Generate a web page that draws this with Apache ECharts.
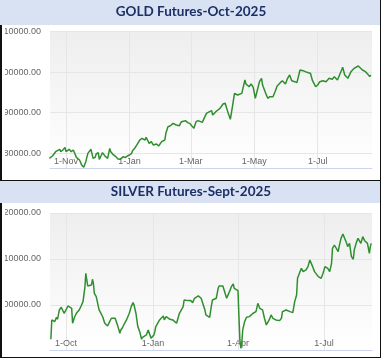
<!DOCTYPE html>
<html>
<head>
<meta charset="utf-8">
<script src="https://cdn.jsdelivr.net/npm/echarts@6/dist/echarts.min.js"></script>
<style>
  html, body { margin: 0; padding: 0; background: #fff; }
  #wrap { position: relative; width: 383px; height: 362px; overflow: hidden; background: #fff; }
  .bar { position: absolute; left: 0; width: 380px; background: #d9e2f3; }
  .ln { position: absolute; background: #111; }
  #chart { position: absolute; left: 5px; top: 0; width: 378px; height: 362px; }
</style>
</head>
<body>
<div id="wrap">
  <div class="ln" style="left:0;top:0;width:1.5px;height:358px;"></div>
  <div class="bar" style="top:0;height:25px;"></div>
  <div class="bar" style="top:181px;height:22px;"></div>
  <div class="ln" style="left:379.5px;top:0;width:1.5px;height:358px;"></div>
  <div class="ln" style="left:0;top:179.5px;width:381px;height:1.5px;"></div>
  <div class="ln" style="left:0;top:356.5px;width:381px;height:1.5px;"></div>
  <div id="chart"></div>
</div>
<script>
// ---------------- data ----------------
const goldTitle = 'GOLD Futures-Oct-2025';
const silverTitle = 'SILVER Futures-Sept-2025';

const goldDates = ['2024-10-16','2024-10-19','2024-10-22','2024-10-26','2024-10-27','2024-10-29','2024-10-31','2024-11-01','2024-11-04','2024-11-06','2024-11-08','2024-11-11','2024-11-14','2024-11-16','2024-11-18','2024-11-20','2024-11-22','2024-11-25','2024-11-27','2024-11-29','2024-11-30','2024-12-02','2024-12-03','2024-12-05','2024-12-06','2024-12-09','2024-12-11','2024-12-13','2024-12-14','2024-12-16','2024-12-19','2024-12-21','2024-12-23','2024-12-26','2024-12-28','2024-12-30','2025-01-01','2025-01-03','2025-01-04','2025-01-06','2025-01-07','2025-01-09','2025-01-11','2025-01-13','2025-01-16','2025-01-17','2025-01-20','2025-01-22','2025-01-24','2025-01-27','2025-01-29','2025-02-01','2025-02-02','2025-02-04','2025-02-05','2025-02-07','2025-02-09','2025-02-12','2025-02-13','2025-02-15','2025-02-18','2025-02-20','2025-02-21','2025-02-24','2025-02-26','2025-02-28','2025-03-02','2025-03-04','2025-03-06','2025-03-08','2025-03-09','2025-03-12','2025-03-13','2025-03-16','2025-03-19','2025-03-21','2025-03-22','2025-03-25','2025-03-27','2025-03-29','2025-04-01','2025-04-03','2025-04-06','2025-04-08','2025-04-10','2025-04-12','2025-04-15','2025-04-19','2025-04-22','2025-04-23','2025-04-26','2025-04-28','2025-04-30','2025-05-02','2025-05-04','2025-05-06','2025-05-08','2025-05-09','2025-05-12','2025-05-14','2025-05-16','2025-05-19','2025-05-21','2025-05-23','2025-05-26','2025-05-28','2025-05-31','2025-06-02','2025-06-04','2025-06-06','2025-06-09','2025-06-11','2025-06-14','2025-06-15','2025-06-17','2025-06-19','2025-06-22','2025-06-24','2025-06-26','2025-06-29','2025-07-01','2025-07-03','2025-07-06','2025-07-09','2025-07-12','2025-07-15','2025-07-17','2025-07-20','2025-07-24','2025-07-25','2025-07-27','2025-07-30','2025-08-02','2025-08-05','2025-08-09','2025-08-10','2025-08-13','2025-08-16','2025-08-18','2025-08-20','2025-08-21'];
const goldValues = [78760,79340,80400,80980,80400,80810,81470,80400,80980,80400,80810,79000,78350,77120,76540,77940,79990,80980,78760,79010,79830,80160,78520,79580,80160,79170,78760,81220,80400,79750,79170,78600,78520,79170,78930,79340,79580,79990,80650,81220,81470,82450,83280,83690,83280,83930,82450,82870,82050,82290,81800,82870,83110,83280,84920,86560,86720,87380,87550,86970,86810,87790,88200,88040,87550,87380,86720,86150,87790,88040,87790,87630,87960,89840,90250,90500,89430,90250,90670,91080,92140,92310,89840,88370,91490,94770,94360,94770,98050,97070,96410,97070,96250,93540,95590,97640,98470,96820,94770,93540,93950,93950,95180,96580,97400,97890,97070,98470,99290,97890,97640,97400,100520,100930,100350,100110,99860,99700,97890,96410,96820,97640,97890,97640,98470,98220,98880,98050,100520,101180,99290,98470,100110,100930,101500,101340,100520,100110,99530,98880,99290];

const silverDates = ['2024-09-15','2024-09-16','2024-09-18','2024-09-19','2024-09-21','2024-09-22','2024-09-24','2024-09-26','2024-09-28','2024-09-29','2024-10-01','2024-10-03','2024-10-05','2024-10-07','2024-10-08','2024-10-10','2024-10-12','2024-10-14','2024-10-15','2024-10-17','2024-10-19','2024-10-21','2024-10-22','2024-10-23','2024-10-24','2024-10-26','2024-10-28','2024-10-29','2024-10-30','2024-10-31','2024-11-02','2024-11-04','2024-11-05','2024-11-06','2024-11-07','2024-11-09','2024-11-11','2024-11-13','2024-11-14','2024-11-16','2024-11-18','2024-11-19','2024-11-20','2024-11-22','2024-11-23','2024-11-25','2024-11-27','2024-11-28','2024-11-30','2024-12-02','2024-12-04','2024-12-06','2024-12-07','2024-12-09','2024-12-11','2024-12-12','2024-12-14','2024-12-15','2024-12-16','2024-12-18','2024-12-20','2024-12-21','2024-12-23','2024-12-25','2024-12-27','2024-12-28','2024-12-30','2024-12-31','2025-01-02','2025-01-03','2025-01-04','2025-01-06','2025-01-08','2025-01-10','2025-01-12','2025-01-13','2025-01-15','2025-01-17','2025-01-19','2025-01-20','2025-01-22','2025-01-24','2025-01-26','2025-01-27','2025-01-29','2025-01-31','2025-02-02','2025-02-03','2025-02-05','2025-02-07','2025-02-09','2025-02-10','2025-02-12','2025-02-14','2025-02-16','2025-02-18','2025-02-21','2025-02-23','2025-02-25','2025-02-26','2025-02-28','2025-03-02','2025-03-04','2025-03-05','2025-03-07','2025-03-09','2025-03-11','2025-03-12','2025-03-14','2025-03-16','2025-03-18','2025-03-20','2025-03-21','2025-03-23','2025-03-25','2025-03-27','2025-03-28','2025-03-30','2025-04-01','2025-04-02','2025-04-03','2025-04-04','2025-04-05','2025-04-06','2025-04-08','2025-04-10','2025-04-11','2025-04-13','2025-04-15','2025-04-17','2025-04-19','2025-04-20','2025-04-22','2025-04-24','2025-04-26','2025-04-27','2025-04-29','2025-05-01','2025-05-03','2025-05-04','2025-05-06','2025-05-08','2025-05-10','2025-05-11','2025-05-13','2025-05-15','2025-05-17','2025-05-18','2025-05-20','2025-05-22','2025-05-24','2025-05-26','2025-05-27','2025-05-29','2025-05-31','2025-06-02','2025-06-03','2025-06-05','2025-06-07','2025-06-09','2025-06-10','2025-06-12','2025-06-14','2025-06-16','2025-06-17','2025-06-19','2025-06-21','2025-06-23','2025-06-25','2025-06-26','2025-06-28','2025-06-30','2025-07-02','2025-07-03','2025-07-05','2025-07-07','2025-07-09','2025-07-10','2025-07-12','2025-07-14','2025-07-16','2025-07-17','2025-07-19','2025-07-21','2025-07-23','2025-07-25','2025-07-26','2025-07-28','2025-07-30','2025-08-01','2025-08-02','2025-08-04','2025-08-06','2025-08-08','2025-08-09','2025-08-11','2025-08-13','2025-08-14','2025-08-16','2025-08-18','2025-08-19','2025-08-20'];
const silverValues = [92530,96740,97100,96370,97320,96880,98910,99490,99060,98190,98910,99780,99920,99270,96010,97320,98190,98550,98910,99780,100720,103840,106880,105430,104130,104130,104350,105580,104710,102530,101810,101450,98910,99270,98190,97320,96010,95650,95430,95290,97100,97460,96740,97100,97320,95290,93840,94560,95140,96010,96740,97100,98190,99630,100500,99990,98190,96740,95290,94200,92530,92970,93260,93480,94560,94200,92750,92390,93480,94200,95290,96010,96740,97100,97610,96740,97460,97320,96880,97100,96740,96590,96010,96740,98190,98550,99630,101080,101080,100940,100720,100940,100500,101450,101810,101960,101450,101080,98910,97820,97460,97320,99990,101080,100720,101450,103620,104130,103980,104130,103840,101450,101080,102900,103980,104560,103620,103260,103120,97460,92390,90580,91660,94560,96370,97320,97610,97460,97820,98190,97820,98550,100360,99270,98910,98910,97100,95650,95290,96740,97820,97100,97320,96740,96370,96590,97100,98550,98910,98910,98760,98550,98190,98330,100720,102170,105790,106880,107970,107250,107610,107610,108330,109780,109640,108330,107250,107250,106160,106160,105790,106880,108330,108480,107970,107250,109060,112320,113040,112820,111590,112680,114490,115430,115220,113400,112680,113400,110510,109930,111950,113400,114490,114130,113400,114850,113980,113770,113400,111230,112680,113400];

const goldXTicks = ['2024-11-01','2025-01-01','2025-03-01','2025-05-01','2025-07-01'];
const silverXTicks = ['2024-10-01','2025-01-01','2025-04-01','2025-07-01'];
const goldYTicks = [80000, 90000, 100000, 110000];
const silverYTicks = [100000, 110000, 120000];

// ---------------- helpers ----------------
const MONTHS = ['Jan','Feb','Mar','Apr','May','Jun','Jul','Aug','Sep','Oct','Nov','Dec'];
function ts(s, h) {
  const p = s.split('-').map(Number);
  return new Date(p[0], p[1] - 1, p[2], h || 0).getTime();
}
function pairs(dates, vals) { return dates.map((d, i) => [ts(d), vals[i]]); }
function dayLabel(v) { const d = new Date(v); return d.getDate() + '-' + MONTHS[d.getMonth()]; }

const FONT = 'Liberation Sans, Arial, sans-serif';
const LINE = '#2f8f2f';

function bgGrad() {
  return new echarts.graphic.LinearGradient(0, 0, 0, 1, [
    { offset: 0, color: '#eeeeee' },
    { offset: 1, color: '#ffffff' }
  ]);
}

function xAxis(idx, minS, minH, maxS, maxH, ticks) {
  const tv = ticks.map(s => ts(s));
  return {
    gridIndex: idx, type: 'value', scale: true,
    min: ts(minS, minH), max: ts(maxS, maxH),
    axisLine: { show: true, onZero: false, lineStyle: { color: '#ccd6eb', width: 1 } },
    axisTick: { show: false, customValues: tv },
    axisLabel: {
      inside: true, customValues: tv, margin: 2,
      formatter: dayLabel, color: '#666', fontSize: 9, fontFamily: FONT
    },
    splitLine: { show: true, lineStyle: { color: '#e6e6e6', width: 1 } }
  };
}
function yAxis(idx, mn, mx, ticks) {
  return {
    gridIndex: idx, type: 'value', min: mn, max: mx,
    axisLine: { show: false },
    axisTick: { show: false, customValues: ticks },
    axisLabel: {
      customValues: ticks, margin: 9,
      formatter: v => Number(v).toFixed(2), color: '#666', fontSize: 9, fontFamily: FONT
    },
    splitLine: { show: true, lineStyle: { color: '#e6e6e6', width: 1 } }
  };
}

const chart = echarts.init(document.getElementById('chart'), null, { renderer: 'canvas' });
chart.setOption({
  animation: false,
  backgroundColor: 'transparent',
  title: [
    { text: goldTitle, left: 186, top: 5, padding: 0, textAlign: 'center',
      textStyle: { color: '#1c2f66', fontSize: 13.5, fontWeight: 'bold', fontFamily: 'Lato, sans-serif' } },
    { text: silverTitle, left: 186, top: 185, padding: 0, textAlign: 'center',
      textStyle: { color: '#1c2f66', fontSize: 13.5, fontWeight: 'bold', fontFamily: 'Lato, sans-serif' } }
  ],
  grid: [
    { left: 45, right: 11, top: 31.5, height: 137, show: true, borderWidth: 0, backgroundColor: bgGrad(),
      containLabel: false, outerBoundsMode: 'none' },
    { left: 45, right: 11, top: 213, height: 137, show: true, borderWidth: 0, backgroundColor: bgGrad(),
      containLabel: false, outerBoundsMode: 'none' }
  ],
  xAxis: [
    xAxis(0, '2024-10-16', 14, '2025-08-22', 5, goldXTicks),
    xAxis(1, '2024-09-14', 2, '2025-08-20', 19, silverXTicks)
  ],
  yAxis: [
    yAxis(0, 76260, 110000, goldYTicks),
    yAxis(1, 90200, 120000, silverYTicks)
  ],
  series: [
    { type: 'line', xAxisIndex: 0, yAxisIndex: 0, data: pairs(goldDates, goldValues),
      showSymbol: false, symbol: 'none', lineStyle: { color: LINE, width: 1.5 }, clip: true },
    { type: 'line', xAxisIndex: 1, yAxisIndex: 1, data: pairs(silverDates, silverValues),
      showSymbol: false, symbol: 'none', lineStyle: { color: LINE, width: 1.5 }, clip: true }
  ]
});
</script>
</body>
</html>
